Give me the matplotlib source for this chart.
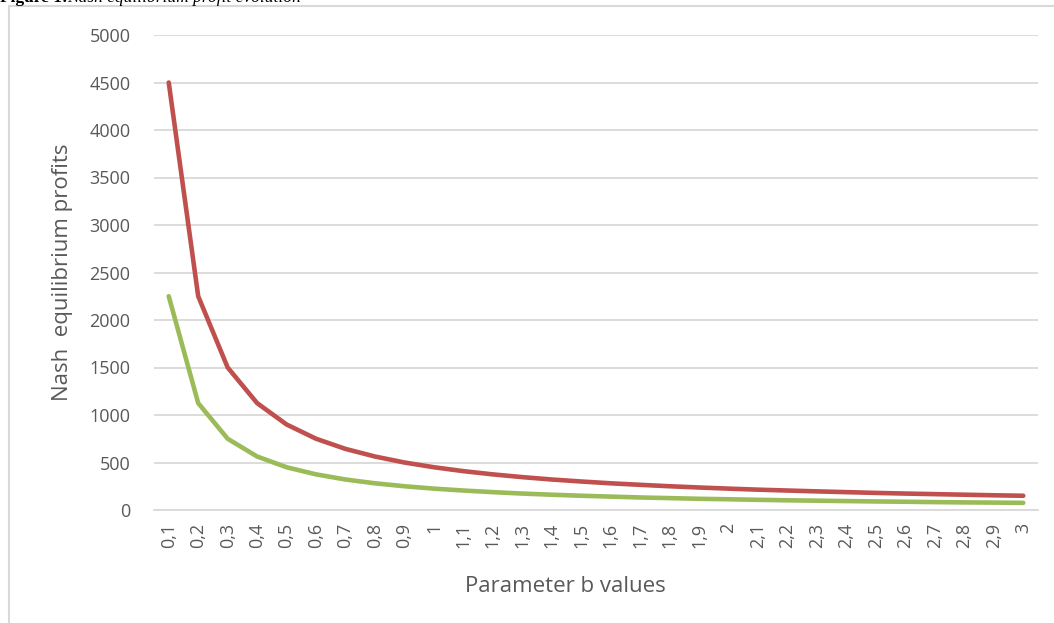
import matplotlib.pyplot as plt
from matplotlib.patches import Rectangle

# parameter b values (category labels, comma decimals as in the source)
b_labels = ["0,1", "0,2", "0,3", "0,4", "0,5", "0,6", "0,7", "0,8", "0,9", "1",
            "1,1", "1,2", "1,3", "1,4", "1,5", "1,6", "1,7", "1,8", "1,9", "2",
            "2,1", "2,2", "2,3", "2,4", "2,5", "2,6", "2,7", "2,8", "2,9", "3"]

# red series (upper curve)
profit_red = [4500, 2250, 1500, 1125, 900, 750, 643, 563, 500, 450,
              409, 375, 346, 321, 300, 281, 265, 250, 237, 225,
              214, 205, 196, 188, 180, 173, 167, 161, 155, 150]

# green series (lower curve)
profit_green = [2250, 1125, 750, 563, 450, 375, 321, 281, 250, 225,
                205, 188, 173, 161, 150, 141, 132, 125, 118, 113,
                107, 102, 98, 94, 90, 87, 83, 80, 78, 75]

y_ticks = [0, 500, 1000, 1500, 2000, 2500, 3000, 3500, 4000, 4500, 5000]

plt.rcParams['font.family'] = ['Open Sans', 'DejaVu Sans']
txt = '#595959'
grid = '#D9D9D9'

fig = plt.figure(figsize=(10.54, 6.23), dpi=100)

# outer chart frame (runs off the right and bottom of the image)
fig.patches.append(Rectangle((9 / 1054, -0.05), 1.1, 1 - 6 / 623 + 0.05,
                             transform=fig.transFigure, fill=False,
                             edgecolor=grid, linewidth=1.5))

# caption, cut at the top of the image
fig.text(0.0, 1 - 2.5 / 623, "Figure 1:", family='Liberation Serif',
         fontweight='bold', fontsize=12.5, va='baseline', ha='left')
fig.text(0.064, 1 - 2.5 / 623, "Nash equilibrium profit evolution",
         family='Liberation Serif', style='italic', fontsize=12.5,
         va='baseline', ha='left')

ax = fig.add_axes([154 / 1054, 1 - 510 / 623, (1038 - 154) / 1054, 475 / 623])

x = list(range(len(b_labels)))
ax.plot(x, profit_red, color='#C0504D', linewidth=3.3, solid_capstyle='round',
        solid_joinstyle='round', zorder=3)
ax.plot(x, profit_green, color='#9BBB59', linewidth=3.3, solid_capstyle='round',
        solid_joinstyle='round', zorder=3)

ax.set_xlim(-0.5, len(b_labels) - 0.5)
ax.set_ylim(0, 5000)
ax.set_yticks(y_ticks)
ax.set_yticklabels([str(v) for v in y_ticks], fontsize=13, color=txt)
ax.set_xticks(x)
ax.set_xticklabels(b_labels, rotation=90, fontsize=13, color=txt)
ax.tick_params(length=0)
ax.tick_params(axis='y', pad=17)
ax.tick_params(axis='x', pad=9)

ax.grid(axis='y', color=grid, linewidth=1.3)
ax.set_axisbelow(True)
for s in ['top', 'right', 'left']:
    ax.spines[s].set_visible(False)
ax.spines['bottom'].set_color(grid)
ax.spines['bottom'].set_linewidth(1.3)

ax.set_ylabel("Nash  equilibrium profits", fontsize=16, color=txt)
ax.yaxis.set_label_coords(-0.092, 0.5)
ax.set_xlabel("Parameter b values", fontsize=16, color=txt)
ax.xaxis.set_label_coords(0.465, -0.14)

fig.savefig("out.png", dpi=100)
